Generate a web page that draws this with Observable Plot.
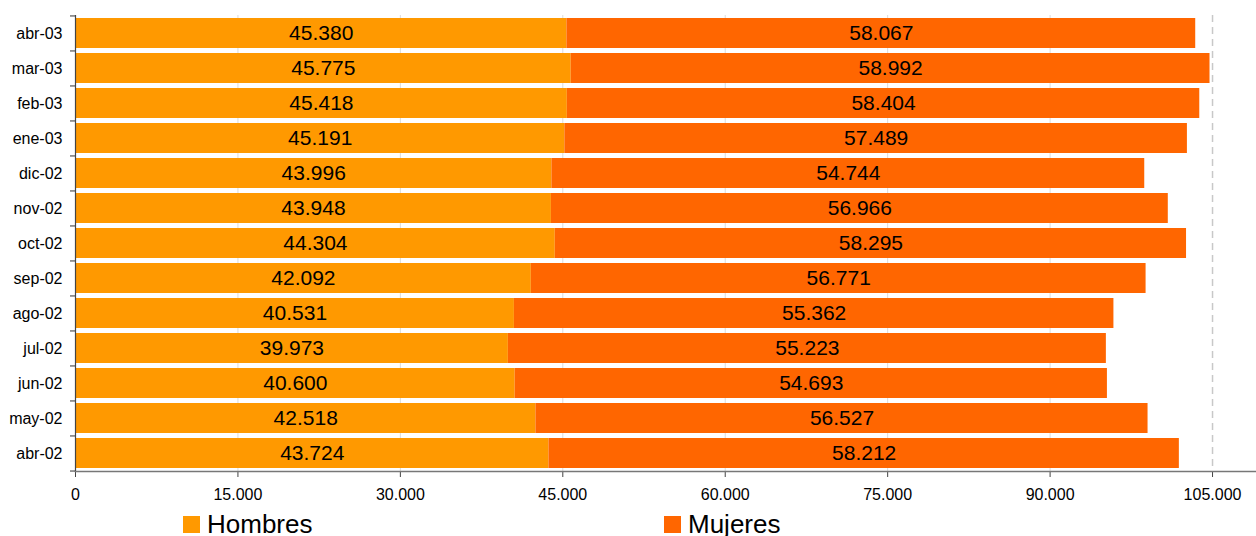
<!DOCTYPE html>
<html>
<head>
<meta charset="utf-8">
<script src="https://cdn.jsdelivr.net/npm/d3@7"></script>
<script src="https://cdn.jsdelivr.net/npm/@observablehq/plot@0.6"></script>
<style>
  html, body { margin: 0; padding: 0; background: #fff; }
  body { width: 1256px; height: 536px; overflow: hidden; font-family: "Liberation Sans", Arial, sans-serif; }
  #legend { position: relative; height: 30px; width: 1256px; }
  .item { position: absolute; top: 3px; display: flex; align-items: center; height: 30px; font-size: 26px; color: #000; }
  .sw { width: 17px; height: 17px; margin-right: 7px; }
</style>
</head>
<body>
<div id="chart"></div>
<div id="legend"></div>
<script>
const months = ["abr-03","mar-03","feb-03","ene-03","dic-02","nov-02","oct-02","sep-02","ago-02","jul-02","jun-02","may-02","abr-02"];
const hombres = [45380,45775,45418,45191,43996,43948,44304,42092,40531,39973,40600,42518,43724];
const mujeres = [58067,58992,58404,57489,54744,56966,58295,56771,55362,55223,54693,56527,58212];
const series = ["Hombres","Mujeres"];
const colors = ["#FF9900","#FF6600"];
const xTicks = [0,15000,30000,45000,60000,75000,90000,105000];
const gridTicks = [15000,30000,45000,60000,75000,90000];
const dashedTicks = [105000];

const es = d3.formatLocale({decimal: ",", thousands: ".", grouping: [3], currency: ["", ""]});
const fmt = es.format(",d");

const data = [];
months.forEach((m, i) => {
  data.push({month: m, sex: series[0], value: hombres[i]});
  data.push({month: m, sex: series[1], value: mujeres[i]});
});

const W = 1256, H = 506, mt = 15, mb = 35, ml = 75, mr = 0;
const step = (H - mt - mb) / months.length;

const chart = Plot.plot({
  width: W,
  height: H,
  marginTop: mt,
  marginBottom: mb,
  marginLeft: ml,
  marginRight: mr,
  style: {fontFamily: "'Liberation Sans', Arial, sans-serif", background: "#fff", color: "#000"},
  x: {domain: [0, 109060]},
  y: {domain: months, paddingInner: 0.14, paddingOuter: 0.07},
  color: {domain: series, range: colors},
  marks: [
    Plot.ruleX(gridTicks, {stroke: "#dcdcdc", strokeWidth: 1}),
    Plot.ruleX(dashedTicks, {stroke: "#c8c8c8", strokeWidth: 1.5, strokeDasharray: "7,5"}),
    Plot.barX(data, {y: "month", x: "value", fill: "sex", z: "sex"}),
    Plot.text(data, Plot.stackX({y: "month", x: "value", z: "sex", text: d => fmt(d.value), fontSize: 21, fill: "#000"})),
    Plot.axisX({ticks: xTicks, tickFormat: fmt, tickSize: 6, tickPadding: 11, fontSize: 16, stroke: "#444", fill: "#000", label: null}),
    Plot.frame({anchor: "bottom", stroke: "#777", strokeWidth: 1.5}),
    Plot.ruleX([0], {stroke: "#444", strokeWidth: 1.2}),
    Plot.axisY({tickSize: 0, tickPadding: 13, fontSize: 16, fill: "#000", label: null}),
    Plot.axisY({tickSize: 5, tickFormat: () => "", dy: -step / 2, stroke: "#333", label: null}),
    Plot.axisY({ticks: [months[months.length - 1]], tickSize: 5, tickFormat: () => "", dy: step / 2, stroke: "#333", label: null})
  ]
});
document.getElementById("chart").appendChild(chart);

const legend = document.getElementById("legend");
const lefts = [183, 664];
series.forEach((s, i) => {
  const it = document.createElement("div");
  it.className = "item";
  it.style.left = lefts[i] + "px";
  const sw = document.createElement("span");
  sw.className = "sw";
  sw.style.background = colors[i];
  const tx = document.createElement("span");
  tx.textContent = s;
  it.appendChild(sw);
  it.appendChild(tx);
  legend.appendChild(it);
});
</script>
</body>
</html>
